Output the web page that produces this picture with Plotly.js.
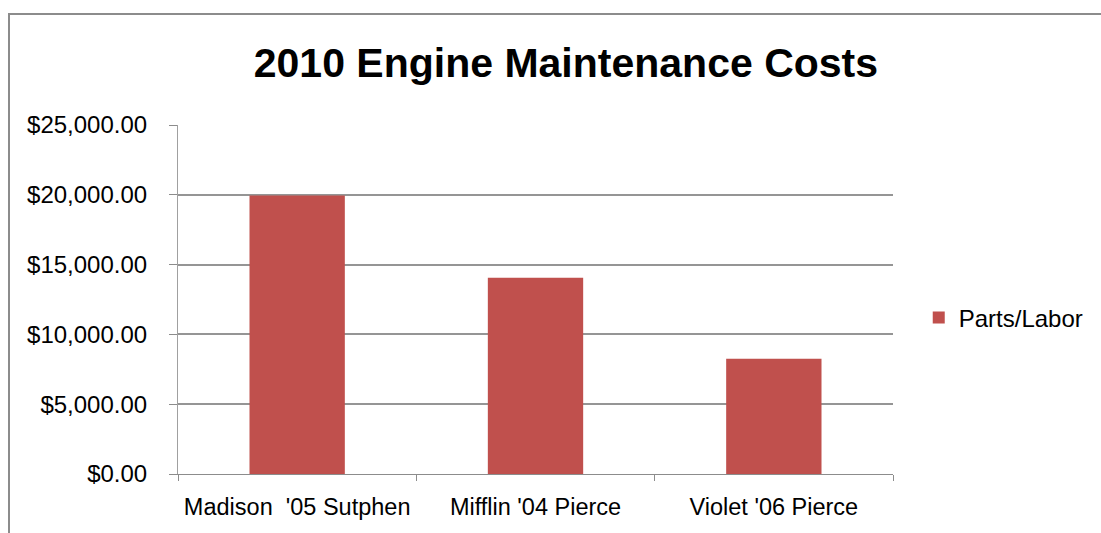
<!DOCTYPE html>
<html>
<head>
<meta charset="utf-8">
<script src="https://cdn.plot.ly/plotly-3.0.1.min.js"></script>
<style>
  html, body { margin: 0; padding: 0; background: #ffffff; }
  #wrap { position: relative; width: 1101px; height: 533px; overflow: hidden; }
  #chart { width: 1101px; height: 533px; }
  #frame { position: absolute; left: 8px; top: 13px; width: 2000px; height: 2000px;
           border-left: 2px solid #8c8c8c; border-top: 2px solid #8c8c8c; pointer-events: none; }
</style>
</head>
<body>
<div id="wrap">
  <div id="chart"></div>
  <div id="frame"></div>
</div>
<script>
const categories = ["Madison\u00a0 '05 Sutphen", "Mifflin '04 Pierce", "Violet '06 Pierce"];
const partsLabor = [19950, 14050, 8250];
const seriesName = "Parts/Labor";
const chartTitle = "2010 Engine Maintenance Costs";

const font = "Liberation Sans, Arial, sans-serif";

const data = [{
  type: "bar",
  x: categories,
  y: partsLabor,
  name: seriesName,
  marker: { color: "#C0504D" },
  showlegend: true,
  hoverinfo: "x+y"
}];

const layout = {
  width: 1101,
  height: 533,
  margin: { l: 178, r: 206, t: 125, b: 59, pad: 0 },
  paper_bgcolor: "#ffffff",
  plot_bgcolor: "#ffffff",
  bargap: 0.6,
  showlegend: true,
  title: {
    text: "<b>" + chartTitle + "</b>",
    font: { family: font, size: 41, color: "#000000" },
    x: 0.514, xref: "container", xanchor: "center",
    y: 1 - 63 / 533, yref: "container", yanchor: "middle"
  },
  xaxis: {
    type: "category",
    showline: true, linecolor: "#8c8c8c", linewidth: 1,
    ticks: "outside", tickson: "boundaries", ticklen: 6, tickcolor: "#8c8c8c",
    showgrid: false,
    tickangle: 0,
    tickfont: { family: font, size: 23.5, color: "#000000" },
    ticklabelstandoff: 12,
    fixedrange: true
  },
  yaxis: {
    range: [0, 25000], dtick: 5000, tick0: 0,
    tickprefix: "$", tickformat: ",.2f",
    showline: true, linecolor: "#a0a0a0", linewidth: 1,
    ticks: "outside", ticklen: 8, tickcolor: "#8c8c8c",
    showgrid: true, gridcolor: "#959595", gridwidth: 2,
    zeroline: false,
    tickfont: { family: font, size: 24, color: "#000000" },
    ticklabelstandoff: 17,
    fixedrange: true
  },
  legend: {
    x: 1.036, xanchor: "left", y: 0.447, yanchor: "middle",
    font: { family: font, size: 24, color: "#000000" },
    bgcolor: "rgba(0,0,0,0)"
  }
};

Plotly.newPlot("chart", data, layout, { displayModeBar: false, staticPlot: true });
</script>
</body>
</html>
